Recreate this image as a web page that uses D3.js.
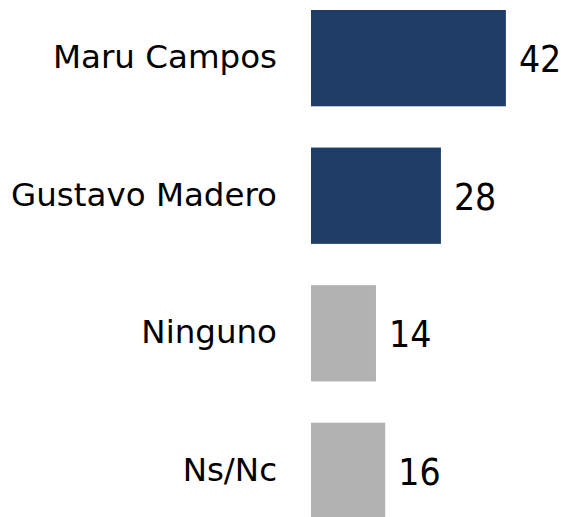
<!DOCTYPE html>
<html>
<head>
<meta charset="utf-8">
<script src="https://cdn.jsdelivr.net/npm/d3@7"></script>
<style>
  body { margin: 0; background: #fff; }
  .label { font-family: "DejaVu Sans", sans-serif; font-size: 32.5px; fill: #000; }
  .value { font-family: "DejaVu Sans Condensed", "DejaVu Sans", sans-serif; font-stretch: condensed; font-size: 37px; fill: #000; }
</style>
</head>
<body>
<script>
// Data
var categories = ["Maru Campos", "Gustavo Madero", "Ninguno", "Ns/Nc"];
var values = [42, 28, 14, 16];
var colors = ["#1f3d66", "#1f3d66", "#b2b2b2", "#b2b2b2"];

var width = 561,
  height = 517;

var svg = d3.select("body")
  .append("svg")
  .attr("width", width)
  .attr("height", height);

// Scales
var x = d3.scaleLinear()
  .domain([0, 50])
  .range([311, 311 + 4.64 * 50]);

var y = d3.scaleBand()
  .domain(categories)
  .range([10, 519])
  .paddingInner(0.3)
  .paddingOuter(0);

var rows = categories.map(function(c, i) {
  return { name: c, value: values[i], color: colors[i] };
});

// Bars
svg.selectAll(".bar")
  .data(rows)
  .enter()
  .append("rect")
  .attr("class", "bar")
  .attr("x", x(0))
  .attr("y", function(d) { return y(d.name); })
  .attr("width", function(d) { return x(d.value) - x(0); })
  .attr("height", y.bandwidth())
  .style("fill", function(d) { return d.color; });

// Category labels
svg.selectAll(".label")
  .data(rows)
  .enter()
  .append("text")
  .attr("class", "label")
  .attr("x", 277)
  .attr("y", function(d) { return y(d.name) + y.bandwidth() / 2 + 10; })
  .attr("text-anchor", "end")
  .text(function(d) { return d.name; });

// Value labels
svg.selectAll(".value")
  .data(rows)
  .enter()
  .append("text")
  .attr("class", "value")
  .attr("x", function(d) { return x(d.value) + 13; })
  .attr("y", function(d) { return y(d.name) + y.bandwidth() / 2 + 14; })
  .text(function(d) { return d.value; });
</script>
</body>
</html>
